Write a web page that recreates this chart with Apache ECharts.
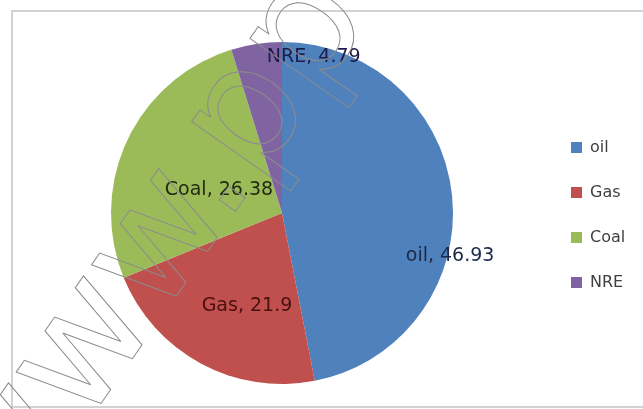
<!DOCTYPE html>
<html><head><meta charset="utf-8">
<script src="https://cdn.jsdelivr.net/npm/echarts@6/dist/echarts.min.js"></script>
<style>html,body{margin:0;padding:0;background:#fff}#c{width:643px;height:409px}</style>
</head><body><div id="c"></div>
<script>
const categories = ['oil', 'Gas', 'Coal', 'NRE'];
const values = [46.93, 21.9, 26.38, 4.79];
const colors = ['#4F81BD', '#C0504D', '#9BBB59', '#8064A2'];
const labelColors = ['#1a2a48', '#4a1010', '#1f2a10', '#1f1a4a'];
const labelShift = [[80, 52], [7, 15], [17, 15], [45, -68]];

const chart = echarts.init(document.getElementById('c'), null, {renderer: 'canvas'});
const deg = 55 * Math.PI / 180;
chart.setOption({
  backgroundColor: '#fff',
  animation: false,
  graphic: [
    {type: 'rect', shape: {x: 12, y: 11, width: 700, height: 396}, style: {fill: 'none', stroke: '#c4c4c4', lineWidth: 1.5}, z: -1},
    {type: 'text', x: -25, y: 511, rotation: deg, z: 100, silent: true,
      style: {text: 'www.pp', fontSize: 160, fontFamily: 'DejaVu Sans', fill: 'none', stroke: '#8c8c8c', lineWidth: 1, align: 'left', verticalAlign: 'middle'}}
  ],
  legend: {
    orient: 'vertical', left: 566, top: 134,
    itemWidth: 11, itemHeight: 11, itemGap: 28, icon: 'rect',
    textStyle: {fontFamily: 'DejaVu Sans', fontSize: 16, color: '#404040', lineHeight: 17, padding: [0, 0, 0, 3]},
    data: categories
  },
  series: [{
    type: 'pie',
    center: [282, 213], radius: 171,
    startAngle: 90, clockwise: true,
    avoidLabelOverlap: false,
    label: {show: true, position: 'inside', formatter: '{b}, {c}', fontFamily: 'DejaVu Sans', fontSize: 19},
    labelLine: {show: false},
    labelLayout: function (p) { const s = labelShift[p.dataIndex]; return {dx: s[0], dy: s[1]}; },
    emphasis: {disabled: true},
    data: categories.map((n, i) => ({name: n, value: values[i], itemStyle: {color: colors[i]}, label: {color: labelColors[i]}}))
  }]
});
</script></body></html>
